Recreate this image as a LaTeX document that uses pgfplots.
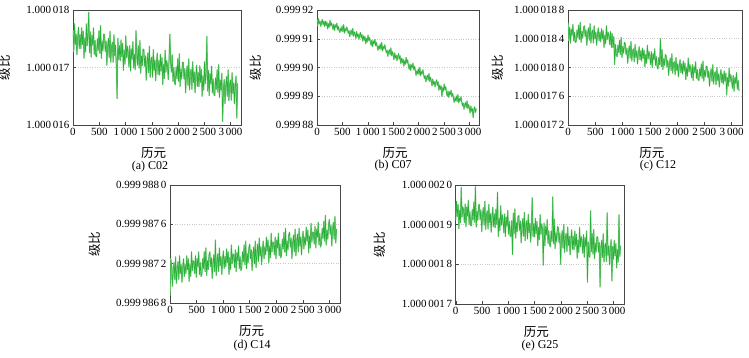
\documentclass[border=0pt]{standalone}
\usepackage{pgfplots}
\pgfplotsset{compat=1.18}
\usepackage{fontspec}
\setmainfont{Liberation Serif}
\newfontfamily\cjk{Noto Sans CJK SC}
\definecolor{lg}{RGB}{40,176,56}
\definecolor{lgl}{RGB}{140,212,140}
\definecolor{gridc}{RGB}{200,200,200}
\definecolor{framec}{RGB}{70,70,70}
\tikzset{ser/.style={draw=lg, line width=0.5pt, line join=round, line cap=round, mark=none,
  preaction={draw=lgl, line width=1.3pt, line join=round}}}
\pgfplotsset{
  panel/.style={
    scale only axis, anchor=south west,
    xmin=0, xmax=3200,
    xtick={0,500,1000,1500,2000,2500,3000},
    xticklabels={0,500,1\,000,1\,500,2\,000,2\,500,3\,000},
    tick align=inside, xtick pos=bottom, ytick pos=left,
    major tick length=3pt,
    tick style={framec, line width=0.4pt},
    axis line style={framec, line width=0.5pt},
    ymajorgrids, grid style={gridc, dotted, line width=0.5pt},
    ticklabel style={font=\fontsize{11}{12}\selectfont},
    xlabel={\cjk 历元}, ylabel={\cjk 级比},
    label style={font=\fontsize{12.5}{13}\selectfont},
    xlabel style={at={(rel axis cs:0.48,0)}, anchor=north, yshift=-19pt},
    ylabel shift=9pt,
    /pgf/number format/assume math mode=true,
  },
}
% y values are stored as offsets from the lowest tick (see tick labels)
\begin{document}
\begin{tikzpicture}
\useasboundingbox (0,0) rectangle (749pt,357pt);
% (a) C02 : units of 1e-7 above 1.000016
\begin{axis}[panel, at={(73pt,232pt)}, width=168pt, height=115pt,
  ymin=0, ymax=20, ytick={0,10,20},
  yticklabels={1.000\,016,1.000\,017,1.000\,018}]
\addplot[ser] coordinates {
(0,16.3)(15,12.8)(30,17.6)(45,14.0)(60,15.8)(75,12.2)(90,15.2)(105,17.0)(120,13.3)(135,15.7)
(150,13.3)(165,16.9)(180,14.0)(195,16.3)(210,11.6)(225,15.1)(240,12.7)(255,17.6)(270,13.8)(285,15.8)
(300,19.6)(315,12.6)(330,16.2)(345,11.8)(360,15.6)(375,13.9)(390,16.9)(405,12.3)(420,14.7)(435,12.0)
(450,11.9)(465,15.0)(480,13.0)(495,16.4)(510,12.5)(525,17.3)(540,11.6)(555,14.6)(570,12.9)(585,15.8)
(600,15.7)(615,12.8)(630,14.6)(645,10.4)(660,13.6)(675,15.1)(690,11.7)(705,16.3)(720,10.9)(735,13.7)
(750,14.4)(765,10.9)(780,15.7)(795,12.1)(810,13.9)(825,10.3)(840,4.6)(855,15.1)(870,11.4)(885,13.8)
(900,11.2)(915,14.8)(930,11.9)(945,14.2)(960,9.5)(975,13.0)(990,10.6)(1005,15.5)(1020,11.7)(1035,13.7)
(1050,12.6)(1065,10.2)(1080,13.8)(1095,9.4)(1110,13.2)(1125,11.5)(1140,14.5)(1155,9.9)(1170,12.3)(1185,9.6)
(1200,16.4)(1215,12.4)(1230,10.4)(1245,13.8)(1260,9.9)(1275,14.7)(1290,9.0)(1305,12.0)(1320,10.3)(1335,13.2)
(1350,13.1)(1365,10.2)(1380,12.0)(1395,7.8)(1410,11.0)(1425,12.5)(1440,9.1)(1455,13.7)(1470,8.3)(1485,11.1)
(1500,11.8)(1515,8.3)(1530,13.1)(1545,9.5)(1560,11.3)(1575,7.7)(1590,10.7)(1605,12.5)(1620,8.8)(1635,11.2)
(1650,8.7)(1665,12.3)(1680,9.4)(1695,11.7)(1710,7.0)(1725,10.5)(1740,8.1)(1755,13.0)(1770,9.2)(1785,11.2)
(1800,10.3)(1815,7.9)(1830,11.5)(1845,15.8)(1860,10.9)(1875,9.2)(1890,12.2)(1905,7.6)(1920,10.0)(1935,7.3)
(1950,7.0)(1965,10.1)(1980,8.1)(1995,11.5)(2010,7.6)(2025,12.4)(2040,6.7)(2055,9.7)(2070,8.0)(2085,10.9)
(2100,10.9)(2115,8.0)(2130,9.8)(2145,5.6)(2160,8.8)(2175,10.3)(2190,6.9)(2205,11.5)(2220,6.1)(2235,8.9)
(2250,9.7)(2265,6.2)(2280,11.0)(2295,7.4)(2310,9.2)(2325,5.6)(2340,8.6)(2355,10.4)(2370,6.7)(2385,9.1)
(2400,6.7)(2415,10.3)(2430,7.4)(2445,9.7)(2460,5.0)(2475,8.5)(2490,6.1)(2505,11.0)(2520,7.2)(2535,9.2)
(2550,15.4)(2565,5.9)(2580,9.5)(2595,5.1)(2610,8.9)(2625,7.2)(2640,10.2)(2655,5.6)(2670,8.0)(2685,5.3)
(2700,5.1)(2715,8.2)(2730,6.2)(2745,9.6)(2760,5.7)(2775,10.5)(2790,4.8)(2805,7.8)(2820,6.1)(2835,9.0)
(2850,0.6)(2865,6.1)(2880,7.9)(2895,3.7)(2910,6.9)(2925,8.4)(2940,5.0)(2955,9.6)(2970,4.2)(2985,7.0)
(3000,7.8)(3015,4.3)(3030,9.1)(3045,5.5)(3060,7.3)(3075,3.7)(3090,6.7)(3105,8.5)(3120,1.2)(3135,7.2)
};
\end{axis}
% (b) C07 : units of 1e-6 above 0.99988
\begin{axis}[panel, at={(317pt,232pt)}, width=162.5pt, height=115pt,
  ymin=0, ymax=40, ytick={0,10,20,30,40}, ylabel shift=7pt,
  yticklabels={0.999\,88,0.999\,89,0.999\,90,0.999\,91,0.999\,92}]
\addplot[ser] coordinates {
(0,36.4)(15,34.6)(30,37.0)(45,35.2)(60,36.1)(75,34.3)(90,35.8)(105,36.7)(120,34.9)(135,36.1)
(150,34.3)(165,36.1)(180,34.6)(195,35.8)(210,33.4)(225,35.2)(240,34.0)(255,36.4)(270,34.5)(285,35.5)
(300,34.5)(315,33.3)(330,35.1)(345,32.9)(360,34.8)(375,34.0)(390,35.4)(405,33.1)(420,34.3)(435,33.0)
(450,32.2)(465,33.7)(480,32.7)(495,34.4)(510,32.5)(525,34.9)(540,32.0)(555,33.5)(570,32.7)(585,34.1)
(600,33.3)(615,31.9)(630,32.8)(645,30.7)(660,32.3)(675,33.0)(690,31.3)(705,33.6)(720,30.9)(735,32.3)
(750,31.8)(765,30.1)(780,32.5)(795,30.7)(810,31.6)(825,29.8)(840,31.3)(855,32.2)(870,30.3)(885,31.5)
(900,29.2)(915,31.0)(930,29.5)(945,30.7)(960,28.3)(975,30.1)(990,28.9)(1005,31.3)(1020,29.4)(1035,30.4)
(1050,28.9)(1065,27.7)(1080,29.5)(1095,27.3)(1110,29.2)(1125,28.3)(1140,29.8)(1155,27.5)(1170,28.7)(1185,27.4)
(1200,26.0)(1215,27.5)(1230,26.5)(1245,28.2)(1260,26.3)(1275,28.7)(1290,25.8)(1305,27.3)(1320,26.5)(1335,27.9)
(1350,26.5)(1365,25.1)(1380,26.0)(1395,23.9)(1410,25.5)(1425,26.2)(1440,24.5)(1455,26.8)(1470,24.1)(1485,25.5)
(1500,24.4)(1515,22.7)(1530,25.1)(1545,23.3)(1560,24.2)(1575,22.4)(1590,23.9)(1605,24.8)(1620,22.9)(1635,24.1)
(1650,21.4)(1665,23.2)(1680,21.7)(1695,22.9)(1710,20.5)(1725,22.3)(1740,21.1)(1755,23.5)(1770,21.6)(1785,22.6)
(1800,20.6)(1815,19.4)(1830,21.2)(1845,19.0)(1860,20.9)(1875,20.0)(1890,21.5)(1905,19.2)(1920,20.4)(1935,19.1)
(1950,17.3)(1965,18.8)(1980,17.8)(1995,19.5)(2010,17.6)(2025,20.0)(2040,17.1)(2055,18.6)(2070,17.8)(2085,19.2)
(2100,17.6)(2115,16.2)(2130,17.1)(2145,15.0)(2160,16.6)(2175,17.3)(2190,15.6)(2205,17.9)(2220,15.2)(2235,16.6)
(2250,15.3)(2265,13.6)(2280,16.0)(2295,14.2)(2310,15.1)(2325,13.3)(2340,14.8)(2355,15.7)(2370,13.8)(2385,15.0)
(2400,12.1)(2415,13.9)(2430,12.4)(2445,13.6)(2460,9.9)(2475,13.0)(2490,11.8)(2505,14.2)(2520,12.3)(2535,13.3)
(2550,11.2)(2565,10.0)(2580,11.8)(2595,9.6)(2610,11.5)(2625,10.6)(2640,12.1)(2655,9.8)(2670,11.0)(2685,9.7)
(2700,7.9)(2715,9.4)(2730,8.4)(2745,10.1)(2760,8.2)(2775,10.6)(2790,7.7)(2805,9.2)(2820,8.4)(2835,9.8)
(2850,8.1)(2865,6.7)(2880,7.6)(2895,5.5)(2910,7.1)(2925,7.8)(2940,6.1)(2955,8.4)(2970,5.7)(2985,7.1)
(3000,5.9)(3015,4.2)(3030,6.6)(3045,4.8)(3060,5.7)(3075,2.6)(3090,5.4)(3105,6.3)(3120,4.4)(3135,5.6)
};
\end{axis}
% (c) C12 : units of 1e-7 above 1.0000172
\begin{axis}[panel, at={(568pt,232pt)}, width=174.5pt, height=115pt,
  ymin=0, ymax=16, ytick={0,4,8,12,16}, ylabel shift=4pt,
  yticklabels={1.000\,017\,2,1.000\,017\,6,1.000\,018\,0,1.000\,018\,4,1.000\,018\,8}]
\addplot[ser] coordinates {
(0,14.2)(15,11.8)(30,13.6)(45,11.4)(60,13.3)(75,12.5)(90,14.0)(105,11.7)(120,12.9)(135,11.5)
(150,11.6)(165,13.2)(180,12.2)(195,13.9)(210,11.9)(225,14.3)(240,11.5)(255,13.0)(270,12.1)(285,13.6)
(300,13.8)(315,12.3)(330,13.2)(345,11.1)(360,12.7)(375,13.5)(390,11.8)(405,14.1)(420,11.4)(435,12.8)
(450,13.2)(465,11.4)(480,13.8)(495,12.0)(510,12.9)(525,11.1)(540,12.6)(555,13.5)(570,11.7)(585,12.9)
(600,11.6)(615,13.4)(630,12.0)(645,13.1)(660,10.8)(675,12.5)(690,11.3)(705,13.8)(720,11.9)(735,12.9)
(750,12.4)(765,11.2)(780,13.0)(795,10.8)(810,12.7)(825,10.8)(840,12.3)(855,8.4)(870,11.2)(885,9.8)
(900,9.5)(915,11.1)(930,10.1)(945,11.8)(960,9.8)(975,12.2)(990,9.4)(1005,10.9)(1020,10.0)(1035,11.5)
(1050,11.3)(1065,9.8)(1080,10.7)(1095,8.6)(1110,10.2)(1125,11.0)(1140,9.3)(1155,11.6)(1170,8.9)(1185,10.3)
(1200,10.6)(1215,8.8)(1230,11.2)(1245,9.4)(1260,10.3)(1275,8.5)(1290,10.0)(1305,10.9)(1320,9.1)(1335,10.3)
(1350,8.9)(1365,10.7)(1380,9.3)(1395,10.4)(1410,8.1)(1425,9.8)(1440,8.6)(1455,11.1)(1470,9.2)(1485,10.2)
(1500,9.6)(1515,8.4)(1530,10.2)(1545,8.0)(1560,9.9)(1575,9.1)(1590,10.6)(1605,8.3)(1620,9.5)(1635,8.1)
(1650,7.8)(1665,9.4)(1680,8.4)(1695,12.0)(1710,8.1)(1725,10.5)(1740,7.7)(1755,9.2)(1770,8.3)(1785,9.8)
(1800,9.6)(1815,8.1)(1830,9.0)(1845,6.9)(1860,8.5)(1875,9.3)(1890,7.6)(1905,9.9)(1920,7.2)(1935,8.6)
(1950,8.8)(1965,7.0)(1980,9.4)(1995,7.6)(2010,8.5)(2025,6.7)(2040,8.2)(2055,9.1)(2070,7.3)(2085,8.5)
(2100,7.1)(2115,8.9)(2130,7.5)(2145,8.6)(2160,6.3)(2175,8.0)(2190,6.8)(2205,9.3)(2220,7.4)(2235,8.4)
(2250,7.8)(2265,6.6)(2280,8.4)(2295,6.2)(2310,8.1)(2325,7.3)(2340,8.8)(2355,6.5)(2370,7.7)(2385,6.3)
(2400,6.2)(2415,7.8)(2430,6.8)(2445,8.5)(2460,6.5)(2475,8.9)(2490,6.1)(2505,7.6)(2520,6.7)(2535,8.2)
(2550,8.1)(2565,6.6)(2580,7.5)(2595,5.4)(2610,7.0)(2625,7.8)(2640,6.1)(2655,8.4)(2670,5.7)(2685,7.1)
(2700,7.4)(2715,5.6)(2730,8.0)(2745,6.2)(2760,7.1)(2775,5.3)(2790,6.8)(2805,7.7)(2820,5.9)(2835,7.1)
(2850,5.7)(2865,7.5)(2880,6.1)(2895,7.2)(2910,4.2)(2925,6.6)(2940,5.4)(2955,7.9)(2970,6.0)(2985,7.0)
(3000,6.3)(3015,5.1)(3030,6.9)(3045,4.7)(3060,6.6)(3075,5.8)(3090,7.3)(3105,5.0)(3120,6.2)(3135,4.8)
};
\end{axis}
% (d) C14 : units of 1e-7 above 0.9999868
\begin{axis}[panel, at={(170pt,54pt)}, width=170pt, height=118pt,
  ymin=0, ymax=12, ytick={0,4,8,12},
  yticklabels={0.999\,986\,8,0.999\,987\,2,0.999\,987\,6,0.999\,988\,0}]
\addplot[ser] coordinates {
(0,0.8)(15,4.5)(30,3.8)(45,1.7)(60,3.3)(75,4.1)(90,2.4)(105,4.7)(120,2.0)(135,3.4)
(150,4.2)(165,2.4)(180,4.8)(195,3.0)(210,3.9)(225,2.1)(240,3.6)(255,4.5)(270,2.7)(285,3.9)
(300,3.0)(315,4.8)(330,3.4)(345,4.5)(360,2.2)(375,3.9)(390,2.7)(405,5.2)(420,3.3)(435,4.3)
(450,4.2)(465,3.0)(480,4.8)(495,2.6)(510,4.5)(525,3.7)(540,5.2)(555,2.9)(570,4.1)(585,2.7)
(600,2.9)(615,4.5)(630,3.5)(645,5.2)(660,3.2)(675,5.6)(690,2.8)(705,4.3)(720,3.4)(735,4.9)
(750,5.2)(765,3.7)(780,4.6)(795,2.5)(810,4.1)(825,4.9)(840,3.2)(855,6.4)(870,2.8)(885,4.2)
(900,5.0)(915,3.2)(930,5.6)(945,3.8)(960,4.7)(975,2.9)(990,4.4)(1005,5.3)(1020,3.5)(1035,4.7)
(1050,3.7)(1065,5.5)(1080,4.1)(1095,5.2)(1110,2.9)(1125,4.6)(1140,3.4)(1155,5.9)(1170,4.0)(1185,5.0)
(1200,4.8)(1215,3.6)(1230,5.4)(1245,3.2)(1260,5.1)(1275,4.3)(1290,5.8)(1305,3.5)(1320,4.7)(1335,3.3)
(1350,3.6)(1365,5.2)(1380,4.2)(1395,5.9)(1410,3.9)(1425,6.3)(1440,3.5)(1455,5.0)(1470,4.1)(1485,5.6)
(1500,6.0)(1515,4.5)(1530,5.4)(1545,3.3)(1560,4.9)(1575,5.7)(1590,4.0)(1605,6.3)(1620,3.6)(1635,5.0)
(1650,6.0)(1665,4.2)(1680,6.6)(1695,4.8)(1710,5.7)(1725,3.9)(1740,5.4)(1755,6.3)(1770,4.5)(1785,5.7)
(1800,4.9)(1815,6.7)(1830,5.3)(1845,6.4)(1860,4.1)(1875,5.8)(1890,4.6)(1905,7.1)(1920,5.2)(1935,6.2)
(1950,6.1)(1965,4.9)(1980,6.7)(1995,4.5)(2010,6.4)(2025,5.6)(2040,7.1)(2055,4.8)(2070,6.0)(2085,4.6)
(2100,4.9)(2115,6.5)(2130,5.5)(2145,7.2)(2160,5.2)(2175,7.6)(2190,4.8)(2205,6.3)(2220,5.4)(2235,6.9)
(2250,7.2)(2265,5.7)(2280,6.6)(2295,4.5)(2310,6.1)(2325,6.9)(2340,5.2)(2355,7.5)(2370,4.8)(2385,6.2)
(2400,7.0)(2415,5.2)(2430,7.6)(2445,5.8)(2460,6.7)(2475,4.9)(2490,6.4)(2505,7.3)(2520,5.5)(2535,6.7)
(2550,5.9)(2565,7.7)(2580,6.3)(2595,7.4)(2610,5.1)(2625,6.8)(2640,5.6)(2655,8.1)(2670,6.2)(2685,7.2)
(2700,7.2)(2715,6.0)(2730,7.8)(2745,5.6)(2760,7.5)(2775,6.7)(2790,8.2)(2805,5.9)(2820,7.1)(2835,5.7)
(2850,6.0)(2865,7.6)(2880,6.6)(2895,8.3)(2910,6.3)(2925,8.9)(2940,5.9)(2955,7.4)(2970,6.5)(2985,8.0)
(3000,8.5)(3015,7.0)(3030,7.9)(3045,5.8)(3060,7.4)(3075,8.2)(3090,6.5)(3105,8.8)(3120,6.1)(3135,7.5)
};
\end{axis}
% (e) G25 : units of 1e-8 above 1.0000017
\begin{axis}[panel, at={(455.7pt,53pt)}, width=168.3pt, height=119pt,
  ymin=0, ymax=30, ytick={0,10,20,30},
  yticklabels={1.000\,001\,7,1.000\,001\,8,1.000\,001\,9,1.000\,002\,0}]
\addplot[ser] coordinates {
(0,21.2)(15,25.9)(30,22.1)(45,25.1)(60,19.0)(75,23.6)(90,20.5)(105,29.4)(120,21.9)(135,24.5)
(150,23.6)(165,20.5)(180,25.2)(195,19.5)(210,24.4)(225,22.2)(240,26.1)(255,20.1)(270,23.3)(285,19.7)
(300,19.8)(315,23.8)(330,21.2)(345,25.7)(360,20.6)(375,29.6)(390,19.4)(405,23.3)(420,21.1)(435,24.9)
(450,25.1)(465,21.3)(480,23.7)(495,18.2)(510,22.4)(525,24.3)(540,19.9)(555,25.9)(570,18.8)(585,22.5)
(600,23.5)(615,18.9)(630,25.1)(645,20.5)(660,22.8)(675,18.1)(690,22.0)(705,24.4)(720,19.5)(735,22.7)
(750,19.2)(765,23.9)(780,20.1)(795,28.2)(810,17.0)(825,21.6)(840,18.5)(855,24.8)(870,19.9)(885,22.5)
(900,21.1)(915,18.0)(930,22.7)(945,17.0)(960,21.9)(975,19.7)(990,23.6)(1005,17.6)(1020,20.8)(1035,17.2)
(1050,17.0)(1065,21.0)(1080,12.5)(1095,22.9)(1110,17.8)(1125,24.0)(1140,16.6)(1155,20.5)(1170,18.3)(1185,22.1)
(1200,22.3)(1215,18.5)(1230,20.9)(1245,15.4)(1260,19.6)(1275,21.5)(1290,17.1)(1305,23.1)(1320,16.0)(1335,19.7)
(1350,21.0)(1365,16.4)(1380,22.6)(1395,18.0)(1410,20.3)(1425,15.6)(1440,19.5)(1455,26.8)(1470,17.0)(1485,20.2)
(1500,16.9)(1515,21.6)(1530,17.8)(1545,20.8)(1560,14.7)(1575,19.3)(1590,16.2)(1605,22.5)(1620,17.6)(1635,20.2)
(1650,18.8)(1665,9.8)(1680,20.4)(1695,14.7)(1710,19.6)(1725,17.4)(1740,21.3)(1755,15.3)(1770,18.5)(1785,14.9)
(1800,14.4)(1815,18.4)(1830,15.8)(1845,27.0)(1860,15.2)(1875,21.4)(1890,14.0)(1905,17.9)(1920,15.7)(1935,19.5)
(1950,19.3)(1965,15.5)(1980,17.9)(1995,10.0)(2010,16.6)(2025,18.5)(2040,14.1)(2055,20.1)(2070,13.0)(2085,16.7)
(2100,17.8)(2115,13.2)(2130,19.4)(2145,14.8)(2160,17.1)(2175,12.4)(2190,16.3)(2205,18.7)(2220,13.8)(2235,17.0)
(2250,13.7)(2265,18.4)(2280,14.6)(2295,17.6)(2310,11.5)(2325,16.1)(2340,13.0)(2355,19.3)(2370,14.4)(2385,17.0)
(2400,15.9)(2415,12.8)(2430,17.5)(2445,11.8)(2460,16.7)(2475,14.5)(2490,18.4)(2505,5.5)(2520,15.6)(2535,12.0)
(2550,11.8)(2565,23.5)(2580,13.2)(2595,17.7)(2610,12.6)(2625,18.8)(2640,11.4)(2655,15.3)(2670,13.1)(2685,16.9)
(2700,16.9)(2715,13.1)(2730,15.5)(2745,4.3)(2760,14.2)(2775,16.1)(2790,11.7)(2805,17.7)(2820,10.6)(2835,14.3)
(2850,15.3)(2865,10.7)(2880,23.0)(2895,12.3)(2910,14.6)(2925,9.9)(2940,13.8)(2955,16.2)(2970,5.8)(2985,14.5)
(3000,11.3)(3015,16.0)(3030,12.2)(3045,15.2)(3060,9.1)(3075,13.7)(3090,10.6)(3105,22.5)(3120,12.0)(3135,14.6)
};
\end{axis}
\begin{scope}[every node/.style={font=\fontsize{12}{13}\selectfont}]
\node at (150pt,190pt) {(a) C02};
\node at (393pt,191pt) {(b) C07};
\node at (658pt,191pt) {(c) C12};
\node at (252pt,11pt) {(d) C14};
\node at (540pt,11pt) {(e) G25};
\end{scope}
\end{tikzpicture}
\end{document}
